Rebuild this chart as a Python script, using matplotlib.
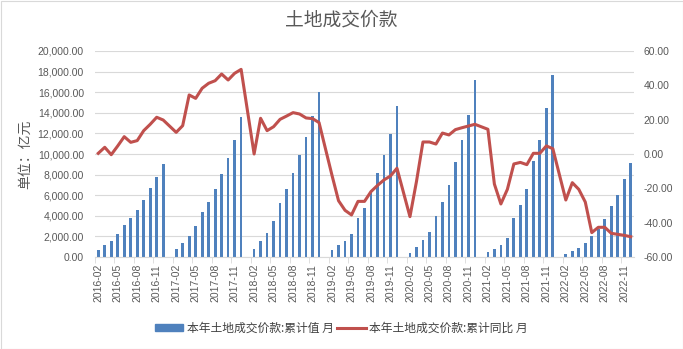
import matplotlib
matplotlib.use("Agg")
import matplotlib.pyplot as plt
import numpy as np
from matplotlib.patches import Patch, Rectangle
from matplotlib.lines import Line2D

plt.rcParams['font.family'] = ['Liberation Sans', 'Noto Sans CJK SC', 'DejaVu Sans']

# monthly categories 2016-02 .. 2022-12 (January has no data)
months = []
for y in range(2016, 2023):
    for m in range(1, 13):
        if y == 2016 and m == 1:
            continue
        months.append(f"{y}-{m:02d}")

N = None
cum_value = [  # 本年土地成交价款:累计值 (亿元)
    680, 1165, 1553, 2265, 3107, 3786, 4563, 5534, 6699, 7799, 9029,
    N, 777, 1392, 2039, 3010, 4369, 5340, 6602, 8058, 9644, 11392, 13592,
    N, 777, 1586, 2362, 3528, 5275, 6634, 8188, 9935, 11683, 13722, 16052,
    N, 680, 1165, 1586, 2265, 3786, 4757, 6181, 8188, 9935, 11942, 14660,
    N, 388, 971, 1650, 2427, 3981, 5340, 6990, 9223, 11360, 13786, 17184,
    N, 485, 777, 1165, 1845, 3786, 5081, 6602, 9288, 11360, 14466, 17670,
    N, 259, 550, 841, 1327, 2039, 2686, 3722, 4951, 6019, 7540, 9126,
]
yoy = [  # 本年土地成交价款:累计同比 (%)
    0.4, 3.9, -0.4, 4.7, 10.1, 6.8, 7.8, 13.6, 17.3, 21.4, 19.8,
    N, 12.6, 16.5, 34.4, 32.4, 38.3, 41.2, 42.7, 46.6, 43.1, 47.0, 49.3,
    N, 0.0, 20.8, 13.6, 15.9, 20.2, 22.1, 24.1, 23.3, 21.0, 20.6, 18.3,
    N, -12.5, -27.2, -32.8, -35.5, -27.6, -27.6, -21.9, -18.3, -15.1, -12.8, -8.3,
    N, -36.5, -16.1, 7.0, 7.0, 5.8, 12.2, 11.1, 14.2, 15.3, 16.3, 17.3,
    N, 14.4, -17.5, -29.1, -20.6, -5.8, -4.9, -6.2, 0.4, 0.4, 4.7, 3.1,
    N, -26.8, -16.7, -20.6, -28.0, -45.8, -42.7, -42.7, -46.2, -46.8, -47.4, -48.2,
]

bar_color = '#4F81BD'
line_color = '#C0504D'
txt = '#595959'
grid = '#D9D9D9'

W, H = 683, 349
fig = plt.figure(figsize=(W / 100, H / 100), dpi=100)
ax = fig.add_axes([95 / W, 1 - 257 / H, (634 - 95) / W, (257 - 51) / H])
ax2 = ax.twinx()

x = np.arange(len(months))
cv = np.array([np.nan if v is None else v for v in cum_value], dtype=float)
yv = np.array([np.nan if v is None else v for v in yoy], dtype=float)

ax.bar(x, cv, width=0.42, color=bar_color, zorder=3)
m = ~np.isnan(yv)
ax2.plot(x[m], yv[m], color=line_color, lw=2.2, zorder=4, solid_joinstyle='round')

ax.set_xlim(-0.5, len(months) - 0.5)
ax.set_ylim(0, 20000)
ax.set_yticks(np.arange(0, 20001, 2000))
ax.set_yticklabels([f"{v:,.2f}" for v in np.arange(0, 20001, 2000)])
ax2.set_ylim(-60, 60)
ax2.set_yticks(np.arange(-60, 61, 20))
ax2.set_yticklabels([f"{v:.2f}" for v in np.arange(-60, 61, 20)])

ax.grid(axis='y', color=grid, lw=0.8, zorder=0)
ax.set_axisbelow(True)
for a in (ax, ax2):
    for s in a.spines.values():
        s.set_visible(False)
ax.spines['bottom'].set_visible(True)
ax.spines['bottom'].set_color(grid)
ax.spines['bottom'].set_zorder(5)

ax.tick_params(axis='y', length=0, labelsize=7.5, labelcolor=txt, pad=8)
ax2.tick_params(axis='y', length=0, labelsize=7.5, labelcolor=txt, pad=7)

ax.set_xticks(x[::3])
ax.set_xticklabels(months[::3], rotation=90)
ax.set_xticks(np.arange(-0.5, len(months), 3), minor=True)
ax.tick_params(axis='x', which='major', length=0, labelsize=7.5, labelcolor=txt, pad=5)
ax.tick_params(axis='x', which='minor', length=4, color=grid)

fig.text(25 / W, 1 - 154 / H, '单位：亿元', rotation=90, ha='center', va='center',
         family=['Noto Sans CJK SC'], fontsize=10, color=txt)

fig.text(0.5, 1 - 20 / H, '土地成交价款', ha='center', va='center',
         family=['Noto Sans CJK SC'], fontsize=13.5, color=txt)

handles = [Patch(facecolor=bar_color, edgecolor=bar_color),
           Line2D([0], [0], color=line_color, lw=2.2)]
labels = ['本年土地成交价款:累计值 月', '本年土地成交价款:累计同比 月']
fig.legend(handles, labels, loc='center', bbox_to_anchor=(0.5, 1 - 328 / H), ncol=2,
           frameon=False, prop={'family': ['Noto Sans CJK SC'], 'size': 8.5},
           labelcolor='#404040', handlelength=2.4, handleheight=0.55, columnspacing=0.3,
           handletextpad=0.3)

fig.add_artist(Rectangle((0.5 / W, 0.5 / H), 1 - 1 / W, 1 - 1 / H, transform=fig.transFigure,
                         fill=False, edgecolor='#D9D9D9', lw=0.8))

fig.savefig('out.png', dpi=100)
